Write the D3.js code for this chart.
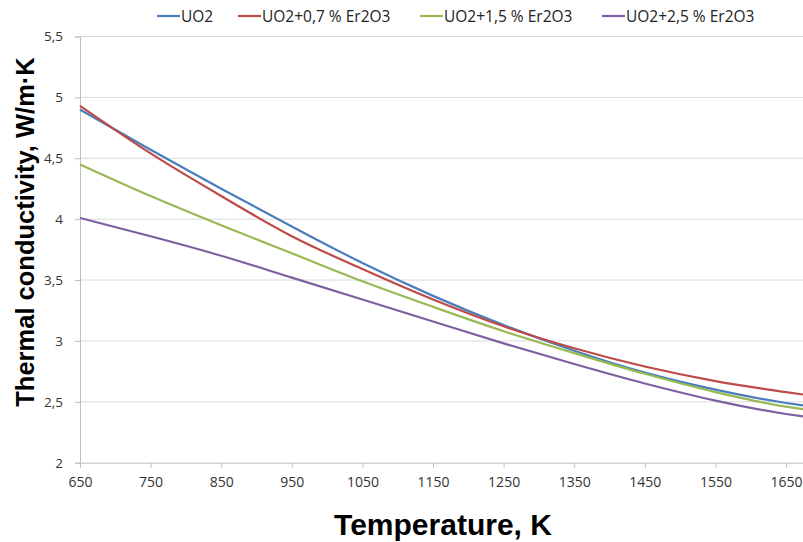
<!DOCTYPE html>
<html>
<head>
<meta charset="utf-8">
<script src="https://cdn.jsdelivr.net/npm/d3@7"></script>
<style>
  body{margin:0;background:#fff;}
  svg{display:block;}
</style>
</head>
<body>
<svg id="chart" width="803" height="542"></svg>
<script>
// temperatures (K) where values were read
const temps = [650, 750, 850, 950, 1050, 1150, 1250, 1350, 1450, 1550, 1650, 1674];
const uo2   = [4.90, 4.57, 4.25, 3.94, 3.64, 3.37, 3.13, 2.92, 2.74, 2.60, 2.49, 2.47];
const er07  = [4.93, 4.54, 4.19, 3.86, 3.59, 3.34, 3.12, 2.94, 2.79, 2.67, 2.58, 2.56];
const er15  = [4.45, 4.19, 3.95, 3.72, 3.49, 3.28, 3.08, 2.90, 2.73, 2.58, 2.46, 2.44];
const er25  = [4.01, 3.86, 3.70, 3.52, 3.34, 3.16, 2.98, 2.81, 2.65, 2.51, 2.40, 2.38];
const seriesNames = ["UO2", "UO2+0,7 % Er2O3", "UO2+1,5 % Er2O3", "UO2+2,5 % Er2O3"];
const seriesColors = ["#4a7ebb", "#be4b48", "#98b954", "#7d60a0"];
const xTicks = [650, 750, 850, 950, 1050, 1150, 1250, 1350, 1450, 1550, 1650];
const yTicks = [2, 2.5, 3, 3.5, 4, 4.5, 5, 5.5];

const allSeries = [uo2, er07, er15, er25];

const svg = d3.select("#chart");
const x = d3.scaleLinear().domain([650, 1674]).range([80, 803]);
const y = d3.scaleLinear().domain([2, 5.5]).range([462.7, 36.5]);
const fmt = d => String(d).replace(".", ",");

// grid
svg.append("g").selectAll("line").data(yTicks.slice(1)).join("line")
  .attr("x1", 80).attr("x2", 803)
  .attr("y1", d => y(d)).attr("y2", d => y(d))
  .attr("stroke", "#d9d9d9").attr("stroke-width", 1);

// y axis
const yAxis = svg.append("g").attr("transform", "translate(80,0)")
  .call(d3.axisLeft(y).tickValues(yTicks).tickSize(5).tickPadding(12).tickFormat(fmt));
yAxis.select(".domain").attr("stroke", "#bfbfbf");
yAxis.selectAll(".tick line").attr("stroke", "#bfbfbf");
yAxis.selectAll("text").attr("font-family", "'Open Sans', sans-serif").attr("font-size", 13.5).attr("fill", "#333");

// x axis
const xAxis = svg.append("g").attr("transform", "translate(0,462.7)")
  .call(d3.axisBottom(x).tickValues(xTicks).tickSize(5).tickPadding(9).tickFormat(d => d));
xAxis.select(".domain").attr("stroke", "#bfbfbf");
xAxis.selectAll(".tick line").attr("stroke", "#bfbfbf");
xAxis.selectAll("text").attr("font-family", "'Open Sans', sans-serif").attr("font-size", 14).attr("fill", "#333");

// lines
const line = d3.line().x((d, i) => x(temps[i])).y(d => y(d)).curve(d3.curveMonotoneX);
svg.append("g").selectAll("path").data(allSeries).join("path")
  .attr("d", line)
  .attr("fill", "none")
  .attr("stroke", (d, i) => seriesColors[i])
  .attr("stroke-width", 2.2);

// legend
const legX = [157, 238, 420, 602];
const leg = svg.append("g").selectAll("g").data(seriesNames).join("g")
  .attr("transform", (d, i) => `translate(${legX[i]},16)`);
leg.append("line").attr("x1", 0).attr("x2", 23).attr("y1", 0).attr("y2", 0)
  .attr("stroke", (d, i) => seriesColors[i]).attr("stroke-width", 2.2);
leg.append("text").attr("x", 24).attr("y", 5.5).text(d => d)
  .attr("font-family", "'Open Sans', sans-serif").attr("font-size", 15.5).attr("fill", "#222");

// axis titles
svg.append("text").attr("x", 443).attr("y", 535).attr("text-anchor", "middle")
  .attr("font-family", "'Liberation Sans', Arial, sans-serif").attr("font-weight", "bold")
  .attr("font-size", 30).text("Temperature, K");
svg.append("text").attr("transform", "translate(34,232) rotate(-90)").attr("text-anchor", "middle")
  .attr("font-family", "'Liberation Sans', Arial, sans-serif").attr("font-weight", "bold")
  .attr("font-size", 25.5).text("Thermal conductivity, W/m·K");
</script>
</body>
</html>
